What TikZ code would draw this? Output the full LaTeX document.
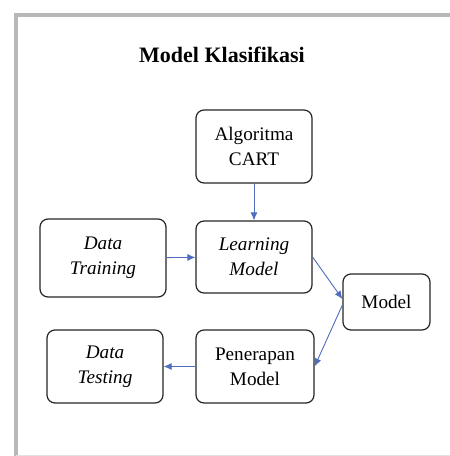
\documentclass[tikz,border=0pt]{standalone}
\usepackage{fontspec}
\setmainfont{Liberation Serif}
\usetikzlibrary{arrows.meta}
\definecolor{arrowblue}{RGB}{80,110,190}
\tikzset{
  box/.style={draw=black!85,line width=0.6pt,rounded corners=4pt,align=center,
    font=\fontsize{9.6}{12.5}\selectfont},
  link/.style={draw=arrowblue,line width=0.45pt,-{Latex[length=4pt,width=3.5pt]}}
}
\begin{document}
\begin{tikzpicture}[x=0.5pt,y=-0.5pt]
            \useasboundingbox (0,0) rectangle (450,456);
            \fill[white] (0,0) rectangle (450,456);
            \draw[black!28,line width=1.8pt] (16,456) -- (16,15) -- (450,15);
            \draw[black!12,line width=0.5pt] (16,455) -- (450,455);
            \node[font=\fontsize{11}{12}\selectfont\bfseries] (title) at (222,55) {Model Klasifikasi};
            \node[box,minimum width=58pt,minimum height=36.5pt] (algo) at (254,146.5) {Algoritma\\CART};
            \node[box,minimum width=58pt,minimum height=36pt] (learn) at (254,257) {\itshape Learning\\\itshape Model};
            \node[box,minimum width=63pt,minimum height=39pt] (train) at (103,258) {\itshape Data\\\itshape Training};
            \node[box,minimum width=43.5pt,minimum height=28pt] (model) at (386.5,302) {Model};
            \node[box,minimum width=59pt,minimum height=36.5pt] (terap) at (255,366.5) {Penerapan\\Model};
            \node[box,minimum width=58pt,minimum height=36.5pt] (test) at (105,366.5) {\itshape Data\\\itshape Testing};
            \draw[link] (algo) -- (learn);
            \draw[link] (train) -- (learn);
            \draw[link] (learn.east) -- ([yshift=1.5pt]model.west);
            \draw[link] ([yshift=-1.5pt]model.west) -- (terap.east);
            \draw[link] (terap) -- (test);
\end{tikzpicture}
\end{document}
